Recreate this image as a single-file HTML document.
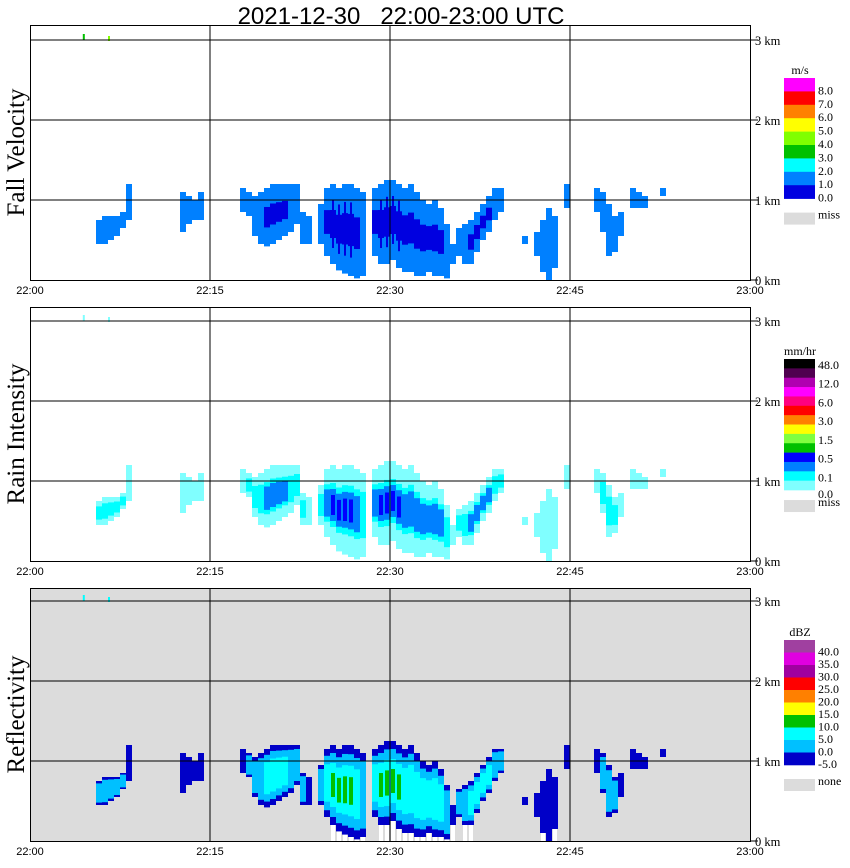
<!DOCTYPE html>
<html><head><meta charset="utf-8"><style>
html,body{margin:0;padding:0;background:#fff;}
svg{display:block;font-family:"Liberation Sans",sans-serif;}
</style></head><body>
<svg id="chart" width="850" height="868" viewBox="0 0 850 868" xmlns="http://www.w3.org/2000/svg">
<text x="401" y="24" font-size="24" text-anchor="middle" style="white-space:pre">2021-12-30   22:00-23:00 UTC</text>
<g id="panels"></g>
</svg>
<script>
// Echo columns: time (minutes after 22:00), base and top height (km), peak intensity class (0-3)
const colTime = [5.5,6,6.5,7,7.5,8, 12.5,13,13.5,14, 17.5,18,18.5,19,19.5,20,20.5,21,21.5,22,22.5,23,
 24,24.5,25,25.5,26,26.5,27,27.5, 28.5,29,29.5,30,30.5,31,31.5,32,32.5,33,33.5,34,34.5,35,
 35.5,36,36.5,37,37.5,38,38.5,39, 41,42,42.5,43,43.5,44.5, 47,47.5,48,48.5,49,50,50.5,51,52.5];
const colBase = [0.45,0.45,0.5,0.55,0.65,0.75, 0.6,0.7,0.75,0.75, 0.85,0.8,0.55,0.45,0.42,0.45,0.5,0.55,0.6,0.7,0.45,0.45,
 0.45,0.3,0.2,0.12,0.08,0.05,0.02,0.05, 0.3,0.2,0.2,0.25,0.15,0.1,0.1,0.05,0.05,0.1,0.05,0.05,0.02,0.2,
 0.3,0.2,0.2,0.35,0.5,0.6,0.75,0.85, 0.45,0.3,0.1,0.0,0.15,0.9, 0.85,0.6,0.3,0.35,0.55,0.9,0.9,0.9,1.05];
const colTop = [0.75,0.8,0.8,0.8,0.85,1.2, 1.1,1.05,1.0,1.1, 1.15,1.1,1.05,1.1,1.15,1.2,1.2,1.2,1.2,1.2,0.85,0.8,
 0.95,1.15,1.2,1.15,1.2,1.2,1.15,1.1, 1.15,1.2,1.25,1.25,1.2,1.15,1.2,1.1,1.0,0.95,1.0,0.9,0.7,0.45,
 0.65,0.7,0.75,0.85,0.95,1.05,1.15,1.15, 0.55,0.6,0.75,0.9,0.8,1.2, 1.15,1.1,0.95,0.8,0.85,1.15,1.1,1.05,1.15];
const colPeak = [1,1,1,1,1,0, 0,0,0,0, 0,1,1,1,2,2,2,2,1,1,1,0,
 1,2,3,3,3,3,2,1, 2,3,3,3,3,2,2,2,2,2,2,2,1,0,
 1,1,2,2,2,2,1,1, 0,0,0,0,0,0, 0,1,1,1,0,0,0,0,0];
// Legend definitions
const fvColors = ['#ff00ff','#ff0000','#ff8000','#ffff00','#80ff00','#00c000','#00ffff','#0080ff','#0000e0'];
const fvLabels = ['8.0','7.0','6.0','5.0','4.0','3.0','2.0','1.0','0.0'];
const riColors = ['#000000','#500050','#b000b0','#ff00ff','#ff0080','#ff0000','#ff8000','#ffff00','#80ff40','#00c000','#0000ff','#0080ff','#00ffff','#80ffff'];
const riLabels = ['48.0','12.0','6.0','3.0','1.5','0.5','0.1','0.0'];
const dbzColors = ['#a040a0','#e000e0','#a000a0','#ff0000','#ff8000','#ffff00','#00c000','#00ffff','#00c0ff','#0000c8'];
const dbzLabels = ['40.0','35.0','30.0','25.0','20.0','15.0','10.0','5.0','0.0','-5.0'];
const timeTicks = [0,15,30,45,60];
const timeLabels = ['22:00','22:15','22:30','22:45','23:00'];
const kmTicks = [0,1,2,3];

const NS='http://www.w3.org/2000/svg';
const root=document.getElementById('panels');
function mk(tag,attrs,parent){const e=document.createElementNS(NS,tag);for(const k in attrs)e.setAttribute(k,attrs[k]);(parent||root).appendChild(e);return e;}
const xs=t=>30+12*t;

const panels=[
 {name:'fall-velocity',title:'Fall Velocity',top:25,zero:280,bg:'#ffffff',
  levels:['#0080ff','#0080ff','#0000e0','#0000e0'],fr:[0,0.7,0.35,0.6],w3:2,legend:fvColors,labels:fvLabels,unit:'m/s',ltop:78,lh:13.4,missLabel:'miss',dotColor:'#00c000'},
 {name:'rain-intensity',title:'Rain Intensity',top:307,zero:561,bg:'#ffffff',
  levels:['#80ffff','#00ffff','#0080ff','#0000ff'],fr:[0,0.55,0.4,0.25],w3:4,legend:riColors,labels:riLabels,unit:'mm/hr',ltop:359,lh:9.36,missLabel:'miss',dotColor:'#80ffff'},
 {name:'reflectivity',title:'Reflectivity',top:588,zero:841,bg:'#dcdcdc',
  levels:['#0000c8','#00c0ff','#00ffff','#00c000'],fr:[0,0.8,0.55,0.3],w3:4,legend:dbzColors,labels:dbzLabels,unit:'dBZ',ltop:640,lh:12.5,missLabel:'none',dotColor:'#00ffff'}
];

panels.forEach((p,pi)=>{
 const g=mk('g',{});
 
 
 const ys=h=>p.zero-80*h;
 const bg=mk('rect',{x:30,y:p.top,width:720,height:p.zero-p.top,fill:p.bg},g);
 
 
 const eg=mk('g',{},g);
 
 
 colTime.forEach((t,i)=>{
  const b=colBase[i],tp=colTop[i],pk=colPeak[i],x=xs(t);
  if(pi===2 && b<0.3){mk('rect',{x:x+1,y:ys(b)-2,width:4,height:Math.max(0,ys(0)-ys(b)+2),fill:'#ffffff'},eg);}
  const r=mk('rect',{x:x,y:ys(tp),width:6,height:ys(b)-ys(tp),fill:p.levels[0]},eg);
  
  
  for(let l=1;l<=pk;l++){
   const f=p.fr[l];
   const mid=(b+tp)/2,half=(tp-b)*f/2;
   const w=l===3?p.w3:6;
   mk('rect',{x:x+(6-w)/2,y:ys(mid+half),width:w,height:ys(mid-half)-ys(mid+half),fill:p.levels[l]},eg);
  }
 });
 mk('rect',{x:xs(4.4),y:ys(3)-6,width:2,height:6,fill:p.dotColor},eg);
 mk('rect',{x:xs(6.5),y:ys(3)-4,width:2,height:5,fill:pi===0?'#80ff00':p.dotColor},eg);
 kmTicks.forEach(k=>{
  if(k>0){const l=mk('line',{x1:30,x2:750,y1:ys(k),y2:ys(k),stroke:'#000','stroke-width':1},g);
   }
  mk('line',{x1:750,x2:758,y1:ys(k),y2:ys(k),stroke:'#000'},g);
  const tx=mk('text',{x:755,y:ys(k)+5,'font-size':12.5,'font-family':'Liberation Serif, serif'},g);
  tx.textContent=k+' km';
  
 });
 timeTicks.forEach((tt,i)=>{
  if(tt>0&&tt<60){mk('line',{x1:xs(tt),x2:xs(tt),y1:p.top,y2:p.zero,stroke:'#000'},g);}
  const tx=mk('text',{x:xs(tt),y:p.zero+14,'font-size':11,'text-anchor':'middle'},g);
  tx.textContent=timeLabels[i];
  
 });
 mk('rect',{x:30.5,y:p.top+0.5,width:720,height:p.zero-p.top,fill:'none',stroke:'#000'},g);
 const yt=mk('text',{transform:`translate(24,${(p.top+p.zero)/2}) rotate(-90)`,'font-size':25,'text-anchor':'middle','font-family':'Liberation Serif, serif'},g);
 yt.textContent=p.title;
 
 const lg=mk('g',{},g);
 
 const ut=mk('text',{x:800,y:p.ltop-4,'font-size':12,'text-anchor':'middle','font-family':'Liberation Serif, serif'},lg);
 ut.textContent=p.unit;
 p.legend.forEach((c,i)=>{
  const r=mk('rect',{x:784,y:p.ltop+i*p.lh,width:31,height:p.lh+0.3,fill:c},lg);
  
 });
 const lend=p.ltop+p.legend.length*p.lh;
 p.labels.forEach((lb,i)=>{
  let y;
  if(pi===1){y=i<7?p.ltop+6+i*2*p.lh:lend+4;}
  else y=p.ltop+p.lh+i*p.lh-1;
  const tx=mk('text',{x:818,y:y+4,'font-size':12,'font-family':'Liberation Serif, serif'},lg);
  tx.textContent=lb;
  
 });
 mk('rect',{x:784,y:lend+(pi===1?10:14),width:31,height:12,fill:'#dcdcdc'},lg);
 const ml=mk('text',{x:818,y:lend+(pi===1?16:20),'font-size':12,'font-family':'Liberation Serif, serif'},lg);
 ml.textContent=p.missLabel;
 
});
</script>
</body></html>
